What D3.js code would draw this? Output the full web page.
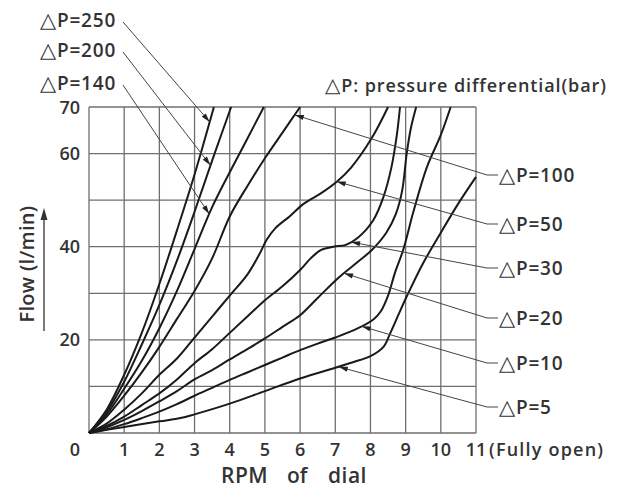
<!DOCTYPE html>
<html><head><meta charset="utf-8">
<script src="https://cdn.jsdelivr.net/npm/d3@7"></script>
<style>body{margin:0;background:#fff}svg{display:block}text{font-family:"Open Sans","Noto Sans",sans-serif;fill:#333;font-weight:600}</style>
</head><body><svg id="c" width="624" height="492"></svg>
<script>
const xTicks=[0,1,2,3,4,5,6,7,8,9,10,11];
const yGrid=[0,10,20,30,40,50,60,70];
const yLabels=[20,40,60,70];
const c250=[[0,0],[0.5,5],[1,12.5],[1.5,21.5],[2,32],[2.5,43.5],[3,55.5],[3.55,70]];
const c200=[[0,0],[0.5,4.5],[1,11],[1.5,19],[2,27.5],[2.5,37],[3,47.5],[3.5,58.5],[4.04,70]];
const c140=[[0,0],[0.5,4],[1,9.5],[1.5,15.5],[2,22.5],[2.5,30.5],[3,39.5],[3.5,48.5],[4,56],[4.5,63.2],[4.97,70]];
const c100=[[0,0],[0.5,3.5],[1,8],[1.5,13],[2,18.5],[2.5,24.5],[3,30.5],[3.5,37.5],[4,46.5],[4.5,53],[5,59],[5.5,64.5],[6,70]];
const c50=[[0,0],[0.5,2],[1,5],[1.5,8.5],[2,12.5],[2.5,16],[3,20.5],[3.5,25],[4,29.5],[4.5,34],[4.85,38.5],[5.05,41.5],[5.3,44],[5.7,46.5],[6.1,49.2],[6.6,51.5],[7.05,54],[7.45,57],[8.05,63.5],[8.5,70]];
const c30=[[0,0],[0.5,1.5],[1,3.5],[1.5,6],[2,8.5],[2.5,11.5],[3,15],[3.5,18],[4,21.5],[4.5,25],[5,28.5],[5.5,31.5],[6,35],[6.3,37.5],[6.6,39.3],[6.95,40],[7.3,40.4],[7.65,42],[8.08,45.7],[8.37,50.7],[8.6,57.2],[8.75,64],[8.84,70]];
const c20=[[0,0],[0.5,1.2],[1,2.8],[1.5,4.7],[2,6.8],[2.5,9],[3,11.5],[3.5,13.5],[4,15.8],[4.5,18],[5,20.3],[5.5,22.8],[6,25.3],[6.5,29],[7.1,33.4],[7.6,36.5],[8.04,39.3],[8.45,43],[8.72,47],[8.9,52],[9.03,60],[9.15,65.5],[9.3,70]];
const c10=[[0,0],[0.5,0.8],[1,1.9],[1.5,3.2],[2,4.6],[2.5,6.2],[3,8],[3.5,9.7],[4,11.4],[4.5,13],[5,14.6],[5.5,16.2],[6,17.8],[6.5,19.2],[7,20.5],[7.65,22.5],[8.1,24.5],[8.3,26.2],[8.5,29.5],[8.7,34.5],[8.93,39.3],[9.22,47.5],[9.6,57],[10,64],[10.28,70]];
const c5=[[0,0],[1,1.3],[2,2.5],[2.6,3.2],[3,4],[4,6.3],[5,9],[6,11.7],[7,14],[7.5,15.2],[8,16.5],[8.37,18.5],[8.56,21.4],[8.79,25.3],[9.03,29.3],[9.5,36.5],[10,43],[10.5,49.3],[11,55]];
const curves=[c250,c200,c140,c100,c50,c30,c20,c10,c5];
const leftNames=["250","200","140"];
const leftTargets=[[3.43,66.8],[3.45,57.5],[3.42,47]];
const rightNames=["100","50","30","20","10","5"];
const rightTargets=[[5.85,68.3],[7.04,54],[7.45,41],[7.25,34.3],[7.75,22.9],[7.1,14.2]];

const svg=d3.select("#c");
const x=d3.scaleLinear().domain([0,11]).range([89,476]);
const y=d3.scaleLinear().domain([0,70]).range([433,107]);
const g=svg.append("g");
g.selectAll(".vg").data(xTicks).join("line").attr("x1",d=>x(d)).attr("x2",d=>x(d)).attr("y1",y(0)).attr("y2",y(70)).attr("stroke","#6f6f6f").attr("stroke-width",1.3);
g.selectAll(".hg").data(yGrid).join("line").attr("y1",d=>y(d)).attr("y2",d=>y(d)).attr("x1",x(0)).attr("x2",x(11)).attr("stroke","#6f6f6f").attr("stroke-width",1.3);
const line=d3.line().x(d=>x(d[0])).y(d=>y(d[1])).curve(d3.curveCatmullRom.alpha(0.5));
g.selectAll(".cv").data(curves).join("path").attr("d",line).attr("fill","none").attr("stroke","#1a1a1a").attr("stroke-width",2);
const tf=18;
svg.selectAll(".xt").data(xTicks).join("text").attr("x",d=>d===0?75:x(d)).attr("y",456).attr("text-anchor","middle").attr("font-size",tf).text(d=>d);
svg.append("text").attr("x",489).attr("y",456).attr("font-size",tf).attr("letter-spacing",1.2).text("(Fully open)");
svg.selectAll(".yt").data(yLabels).join("text").attr("x",80).attr("y",d=>y(d)+6.5).attr("text-anchor","end").attr("font-size",tf).text(d=>d);
svg.append("text").attr("x",221).attr("y",483).attr("font-size",21).attr("letter-spacing",0.5).text("RPM");
svg.append("text").attr("x",287).attr("y",483).attr("font-size",21).text("of");
svg.append("text").attr("x",328).attr("y",483).attr("font-size",21).attr("letter-spacing",0.5).text("dial");
svg.append("text").attr("transform","translate(34,264) rotate(-90)").attr("text-anchor","middle").attr("font-size",20).attr("letter-spacing",0.3).text("Flow (l/min)");
svg.append("line").attr("x1",44).attr("x2",44).attr("y1",331).attr("y2",218).attr("stroke","#333").attr("stroke-width",1.3);
svg.append("path").attr("d","M44,208 L40.5,220 L47.5,220 Z").attr("fill","#333");
function dpLabel(xp,yp,val,size,spacing){
  const t=svg.append("text").attr("x",xp).attr("y",yp).attr("font-size",size).attr("letter-spacing",spacing);
  t.append("tspan").attr("font-family","DejaVu Sans").attr("font-weight",400).attr("font-size",size+2).text("△");
  t.append("tspan").text(val);
  return t;
}
dpLabel(325,92,"P: pressure differential(bar)",18,0.9);
function leader(x0,y0,x1,y1){
  svg.append("line").attr("x1",x0).attr("y1",y0).attr("x2",x1).attr("y2",y1).attr("stroke","#444").attr("stroke-width",1);
  const a=Math.atan2(y1-y0,x1-x0),L=9,W=2.6;
  const bx=x1-L*Math.cos(a),by=y1-L*Math.sin(a);
  const px=-Math.sin(a)*W,py=Math.cos(a)*W;
  svg.append("path").attr("d",`M${x1},${y1}L${bx+px},${by+py}L${bx-px},${by-py}Z`).attr("fill","#222");
}
const leftY=[20,50,83];
leftNames.forEach((n,i)=>{
  dpLabel(40,leftY[i]+7,"P="+n,19,0.8);
  leader(123,leftY[i]+2,x(leftTargets[i][0]),y(leftTargets[i][1]));
});
const rightY=[175,224,268,318,363,407];
rightNames.forEach((n,i)=>{
  dpLabel(499,rightY[i]+7,"P="+n,19,0.8);
  svg.append("line").attr("x1",487).attr("x2",498).attr("y1",rightY[i]).attr("y2",rightY[i]).attr("stroke","#444").attr("stroke-width",1);
  leader(487,rightY[i],x(rightTargets[i][0]),y(rightTargets[i][1]));
});
</script></body></html>
